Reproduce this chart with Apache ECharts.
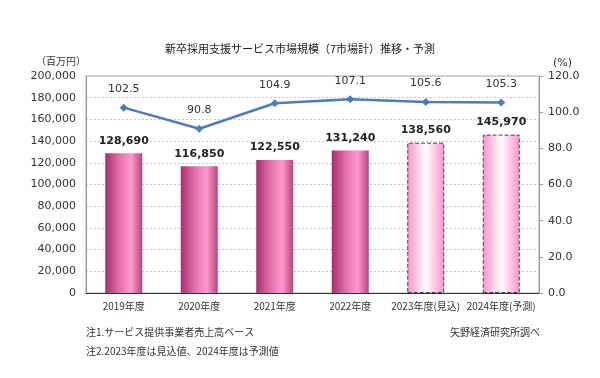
<!DOCTYPE html>
<html>
<head>
<meta charset="utf-8">
<script src="https://cdn.jsdelivr.net/npm/echarts@6/dist/echarts.min.js"></script>
<style>
  html, body { margin: 0; padding: 0; background: #fff; }
  #chart { width: 600px; height: 378px; }
</style>
</head>
<body>
<div id="chart"></div>
<script>
const years = ['2019年度', '2020年度', '2021年度', '2022年度', '2023年度(見込)', '2024年度(予測)']
const marketSize = [128690, 116850, 122550, 131240, 138560, 145970]
const growthRate = [102.5, 90.8, 104.9, 107.1, 105.6, 105.3]
const forecastFrom = 4

const chart = echarts.init(document.getElementById('chart'))
const font = "'DejaVu Sans', 'Noto Sans CJK JP', sans-serif"
const jpFont = "'Noto Sans CJK JP', sans-serif"

const solidFill = new echarts.graphic.LinearGradient(0, 0, 1, 0, [
  { offset: 0, color: '#a3306c' },
  { offset: 0.35, color: '#e06aa8' },
  { offset: 0.7, color: '#ff9acd' },
  { offset: 1, color: '#b8437f' }
])
const forecastFill = new echarts.graphic.LinearGradient(0, 0, 1, 0, [
  { offset: 0, color: '#ff8fc6' },
  { offset: 0.5, color: '#ffffff' },
  { offset: 1, color: '#ff8fc6' }
])

const barData = marketSize.map((v, i) => {
  if (i < forecastFrom) return { value: v, itemStyle: { color: solidFill } }
  return {
    value: v,
    itemStyle: { color: forecastFill, borderColor: '#444', borderWidth: 1, borderType: 'dashed' }
  }
})

chart.setOption({
  animation: false,
  title: {
    text: '新卒採用支援サービス市場規模（7市場計）推移・予測',
    left: 'center',
    top: 38,
    textStyle: { fontFamily: jpFont, fontSize: 11, fontWeight: 'normal', color: '#222' }
  },
  graphic: [
    { type: 'text', left: 36, top: 56, style: { text: '（百万円）', font: '10px ' + jpFont, fill: '#333' } },
    { type: 'text', left: 553, top: 58, style: { text: '(%)', font: '11px ' + font, fill: '#333' } },
    { type: 'text', left: 86, top: 327, style: { text: '注1.サービス提供事業者売上高ベース', font: '10px ' + jpFont, fill: '#333' } },
    { type: 'text', left: 86, top: 346, style: { text: '注2.2023年度は見込値、2024年度は予測値', font: '10px ' + jpFont, fill: '#333' } },
    { type: 'text', right: 60, top: 327, style: { text: '矢野経済研究所調べ', font: '10px ' + jpFont, fill: '#333' } }
  ],
  grid: {
    left: 86, right: 61, top: 76, bottom: 85,
    show: true, borderColor: '#aaa', borderWidth: 1
  },
  xAxis: {
    type: 'category',
    data: years,
    boundaryGap: true,
    axisLine: { lineStyle: { color: '#333' } },
    axisTick: { inside: true, length: 5, lineStyle: { color: '#333' } },
    axisLabel: { interval: 0, color: '#333', fontFamily: jpFont, fontSize: 10, margin: 8 }
  },
  yAxis: [
    {
      type: 'value',
      min: 0, max: 200000, interval: 20000,
      axisLine: { show: true, lineStyle: { color: '#999' } },
      axisTick: { show: false },
      axisLabel: {
        color: '#333', fontFamily: font, fontSize: 11, margin: 10,
        formatter: v => v.toLocaleString('en-US')
      },
      splitLine: { lineStyle: { color: '#c8c8c8', type: [2, 2] } }
    },
    {
      type: 'value',
      min: 0, max: 120, interval: 20,
      axisLine: { show: true, lineStyle: { color: '#999' } },
      axisTick: { show: true, length: 4, lineStyle: { color: '#999' } },
      axisLabel: {
        color: '#333', fontFamily: font, fontSize: 11, margin: 9,
        formatter: v => v.toFixed(1)
      },
      splitLine: { show: false }
    }
  ],
  series: [
    {
      type: 'bar',
      data: barData,
      barWidth: '49%',
      label: {
        show: true, position: 'top', distance: 7,
        fontFamily: font, fontSize: 11, fontWeight: 'bold', color: '#222',
        formatter: p => p.value.toLocaleString('en-US')
      }
    },
    {
      type: 'line',
      yAxisIndex: 1,
      data: growthRate,
      symbol: 'diamond',
      symbolSize: 8,
      lineStyle: { color: '#4a7ebb', width: 2.5 },
      itemStyle: { color: '#4a7ebb' },
      label: {
        show: true, position: 'top', distance: 9,
        fontFamily: font, fontSize: 11, color: '#333',
        formatter: p => p.value.toFixed(1)
      }
    }
  ]
})
</script>
</body>
</html>
